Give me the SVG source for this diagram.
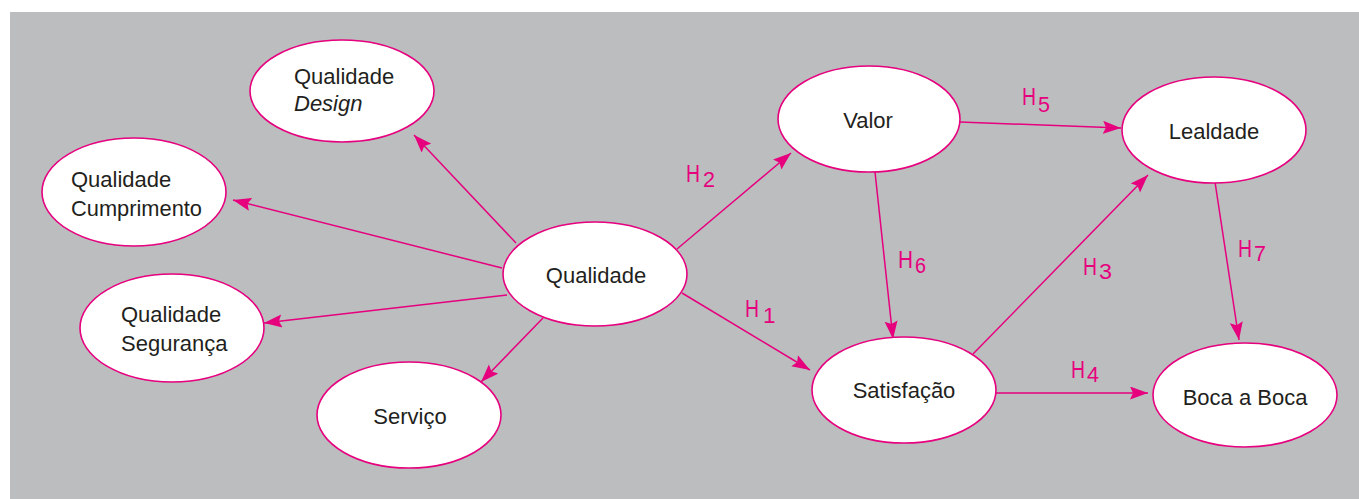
<svg xmlns="http://www.w3.org/2000/svg" width="1359" height="499" viewBox="0 0 1359 499">
<style>
.node{fill:#ffffff;stroke:#e6007e;stroke-width:1.6}
.lbl{font-family:"Liberation Sans",Arial,sans-serif;font-size:22px;fill:#231f20}
.c{text-anchor:middle}
.e{stroke:#e6007e;stroke-width:1.5;fill:none;marker-end:url(#ah)}
.h{font-family:"Liberation Sans",Arial,sans-serif;font-size:24.5px;fill:#e6007e}
.d{font-family:"Liberation Sans",Arial,sans-serif;font-size:22.5px;fill:#e6007e}
</style>
<defs>
<marker id="ah" markerUnits="userSpaceOnUse" markerWidth="20" markerHeight="14" refX="18" refY="6.5" orient="auto">
<path d="M0,0 L18,6.5 L0,13 L3,6.5 z" fill="#e6007e"/>
</marker>
</defs>
<rect x="10" y="12" width="1349" height="487" fill="#bcbdbf"/>
<g id="connectors">
<line class="e" x1="516" y1="243" x2="414" y2="135"/>
<line class="e" x1="502" y1="268" x2="233" y2="200"/>
<line class="e" x1="507" y1="295" x2="264" y2="323"/>
<line class="e" x1="543" y1="318" x2="481" y2="382"/>
<line class="e" x1="677" y1="249" x2="791" y2="153"/>
<line class="e" x1="682" y1="293" x2="810" y2="370"/>
<line class="e" x1="960" y1="122" x2="1121" y2="128"/>
<line class="e" x1="875" y1="172" x2="893" y2="339"/>
<line class="e" x1="973" y1="354" x2="1148" y2="175"/>
<line class="e" x1="996" y1="393" x2="1148" y2="393"/>
<line class="e" x1="1215" y1="182" x2="1239" y2="340"/>
<g id="edge-labels">
<text class="h" x="686" y="182" textLength="14" lengthAdjust="spacingAndGlyphs">H</text><text class="d" x="703" y="187" textLength="12" lengthAdjust="spacingAndGlyphs">2</text>
<text class="h" x="745" y="317" textLength="14" lengthAdjust="spacingAndGlyphs">H</text><text class="d" x="763" y="323">1</text>
<text class="h" x="1083" y="275" textLength="14" lengthAdjust="spacingAndGlyphs">H</text><text class="d" x="1099" y="279" textLength="13" lengthAdjust="spacingAndGlyphs">3</text>
<text class="h" x="1071" y="378" textLength="14" lengthAdjust="spacingAndGlyphs">H</text><text class="d" x="1087" y="382" textLength="12" lengthAdjust="spacingAndGlyphs">4</text>
<text class="h" x="1022" y="105" textLength="14" lengthAdjust="spacingAndGlyphs">H</text><text class="d" x="1038" y="112" textLength="12" lengthAdjust="spacingAndGlyphs">5</text>
<text class="h" x="898" y="268" textLength="15" lengthAdjust="spacingAndGlyphs">H</text><text class="d" x="915" y="273" textLength="11" lengthAdjust="spacingAndGlyphs">6</text>
<text class="h" x="1238" y="257" textLength="14" lengthAdjust="spacingAndGlyphs">H</text><text class="d" x="1254" y="261" textLength="12" lengthAdjust="spacingAndGlyphs">7</text>
</g>
</g>
<g id="n-design">
<ellipse class="node" cx="342" cy="91" rx="92" ry="51"/>
<text class="lbl" x="294" y="84">Qualidade</text>
<text class="lbl" x="294" y="111" font-style="italic">Design</text>
</g>
<g id="n-cumprimento">
<ellipse class="node" cx="134" cy="192" rx="92" ry="54"/>
<text class="lbl" x="71" y="187">Qualidade</text>
<text class="lbl" x="71" y="216" textLength="131" lengthAdjust="spacingAndGlyphs">Cumprimento</text>
</g>
<g id="n-seguranca">
<ellipse class="node" cx="172" cy="328" rx="92" ry="54"/>
<text class="lbl" x="121" y="322">Qualidade</text>
<text class="lbl" x="121" y="351">Segurança</text>
</g>
<g id="n-servico">
<ellipse class="node" cx="409" cy="415" rx="92" ry="53"/>
<text class="lbl c" x="410" y="424">Serviço</text>
</g>
<g id="n-qualidade">
<ellipse class="node" cx="595" cy="274" rx="92" ry="52"/>
<text class="lbl c" x="596" y="283">Qualidade</text>
</g>
<g id="n-valor">
<ellipse class="node" cx="869" cy="119" rx="91" ry="53"/>
<text class="lbl c" x="868" y="128">Valor</text>
</g>
<g id="n-lealdade">
<ellipse class="node" cx="1214" cy="130" rx="92" ry="53"/>
<text class="lbl c" x="1214" y="139">Lealdade</text>
</g>
<g id="n-satisfacao">
<ellipse class="node" cx="904" cy="390" rx="92" ry="53"/>
<text class="lbl c" x="904" y="398">Satisfação</text>
</g>
<g id="n-boca">
<ellipse class="node" cx="1245" cy="395" rx="92" ry="52"/>
<text class="lbl c" x="1245" y="405">Boca a Boca</text>
</g>
</svg>
